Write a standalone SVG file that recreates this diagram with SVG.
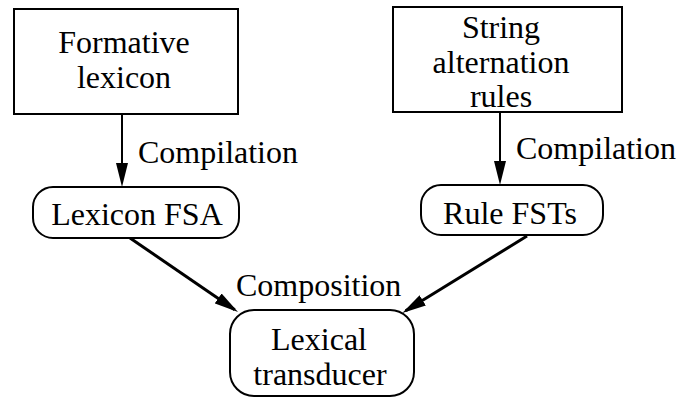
<svg xmlns="http://www.w3.org/2000/svg" width="680" height="398" viewBox="0 0 680 398">
  <style>
    .box { fill: #fff; stroke: #000; stroke-width: 2; }
    .lbl { font-family: "Liberation Serif", "Times New Roman", serif; font-size: 32px; fill: #000; }
    .mid { text-anchor: middle; }
    .edge { stroke: #000; fill: none; }
  </style>
  <defs>
    <marker id="head" viewBox="0 0 24 12" refX="20" refY="6" markerWidth="24" markerHeight="12" markerUnits="userSpaceOnUse" orient="auto">
      <path d="M0,0 L24,6 L0,12 z" fill="#000"/>
    </marker>
  </defs>

  <rect width="680" height="398" fill="#fff"/>

  <g id="connectors">
    <line class="edge" x1="122" y1="114" x2="122" y2="183" stroke-width="2" marker-end="url(#head)"/>
    <line class="edge" x1="500" y1="112" x2="500" y2="181" stroke-width="2" marker-end="url(#head)"/>
    <line class="edge" x1="130" y1="238" x2="234.7" y2="309.7" stroke-width="3" marker-end="url(#head)"/>
    <line class="edge" x1="527" y1="236" x2="405.7" y2="310.8" stroke-width="3" marker-end="url(#head)"/>
    <text class="lbl" x="138" y="163">Compilation</text>
    <text class="lbl" x="516" y="159">Compilation</text>
    <text class="lbl" x="236" y="296">Composition</text>
  </g>

  <g id="formative-lexicon">
    <rect class="box" x="14" y="9" width="224" height="105"/>
    <text class="lbl mid" x="124" y="53">Formative</text>
    <text class="lbl mid" x="124" y="88">lexicon</text>
  </g>

  <g id="string-alternation-rules">
    <rect class="box" x="393" y="7" width="229" height="105"/>
    <text class="lbl mid" x="501" y="38">String</text>
    <text class="lbl mid" x="501" y="73">alternation</text>
    <text class="lbl mid" x="501" y="107">rules</text>
  </g>

  <g id="lexicon-fsa">
    <rect class="box" x="33" y="187" width="206" height="51" rx="20" ry="20"/>
    <text class="lbl mid" x="137" y="225">Lexicon FSA</text>
  </g>

  <g id="rule-fsts">
    <rect class="box" x="421" y="185" width="182" height="50" rx="20" ry="20"/>
    <text class="lbl mid" x="510" y="224">Rule FSTs</text>
  </g>

  <g id="lexical-transducer">
    <rect class="box" x="230" y="310" width="184" height="86" rx="24" ry="24"/>
    <text class="lbl mid" x="319" y="350">Lexical</text>
    <text class="lbl mid" x="320" y="385">transducer</text>
  </g>
</svg>
